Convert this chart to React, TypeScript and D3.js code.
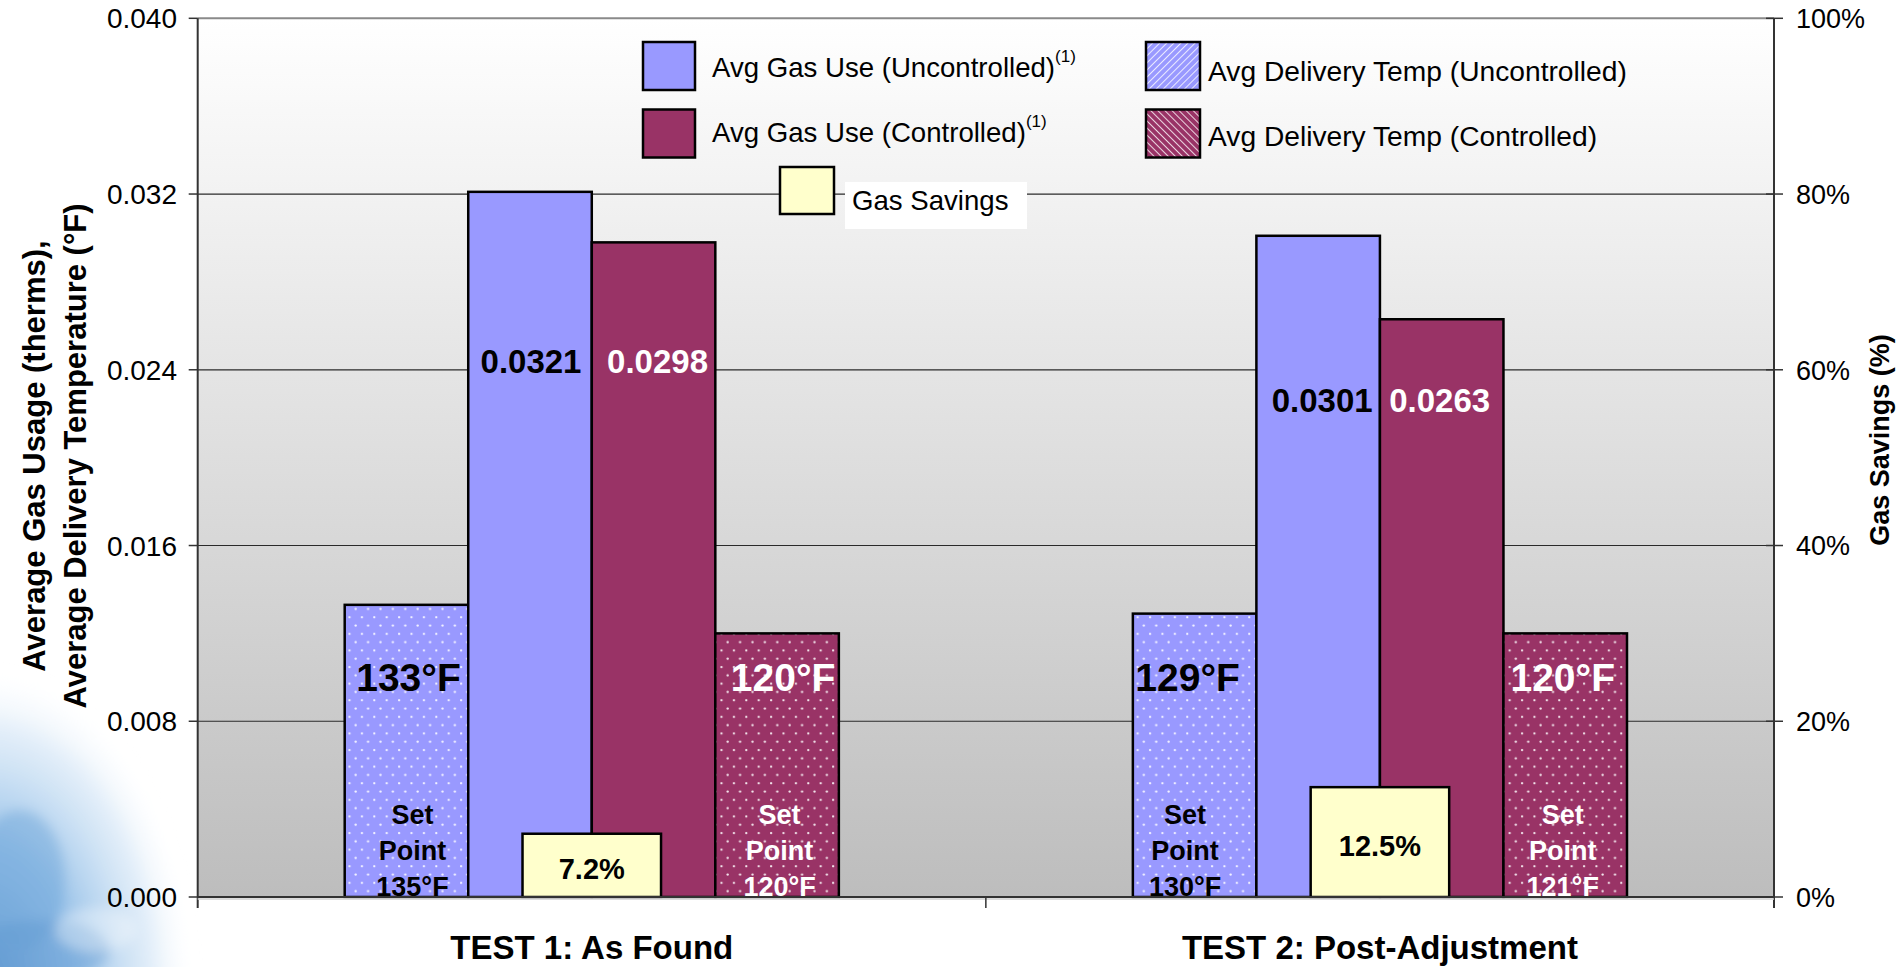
import React, { useEffect } from "react";
import * as d3 from "d3";

// ---------- data ----------
const categories = ["TEST 1: As Found", "TEST 2: Post-Adjustment"];
const tempUncontrolled = [133, 129]; // °F
const gasUncontrolled = [0.0321, 0.0301]; // therms
const gasControlled = [0.0298, 0.0263]; // therms
const tempControlled = [120, 120]; // °F
const gasSavings = [7.2, 12.5]; // %
const setPointUncontrolled = [135, 130]; // °F
const setPointControlled = [120, 121]; // °F
const leftTicks = [0, 0.008, 0.016, 0.024, 0.032, 0.04];
const rightTicks = [0, 20, 40, 60, 80, 100];
const TEMP_DIVISOR = 10000; // temperatures drawn on the therms axis

const seriesKeys = ["tempU", "gasU", "gasC", "tempC"];
const legendLeft = ["Avg Gas Use (Uncontrolled)", "Avg Gas Use (Controlled)"];
const legendRight = ["Avg Delivery Temp (Uncontrolled)", "Avg Delivery Temp (Controlled)"];
const legendSavings = "Gas Savings";

// ---------- styles ----------
const W = 1901;
const H = 967;
const M = { left: 197.7, right: 1774, top: 18.3, bottom: 897 };
const FONT = "'Liberation Sans', Arial, sans-serif";
const C_UNC = "#9999FF";
const C_CON = "#993366";
const C_SAV = "#FFFFCC";
// small nudges of hand-placed labels (px), per category
const NUDGE = {
  gasU: [1, 4],
  gasC: [4, -2],
  gasY: [1, -4],
  tempU: [2, -7],
  tempC: [6, -2.5],
  spU: [6, -9.5],
  spC: [2.5, -2.5],
};

function seriesValue(key: string, i: number): number {
  if (key === "tempU") return tempUncontrolled[i] / TEMP_DIVISOR;
  if (key === "gasU") return gasUncontrolled[i];
  if (key === "gasC") return gasControlled[i];
  return tempControlled[i] / TEMP_DIVISOR;
}

export default function App() {
  useEffect(() => {
    document.body.style.margin = "0";
  }, []);

  const x = d3.scaleBand<string>().domain(categories).range([M.left, M.right]).padding(0);
  const inner = d3
    .scaleBand<string>()
    .domain(seriesKeys)
    .range([0, x.bandwidth()])
    .paddingInner(0)
    .paddingOuter(1.19);
  const sav = d3
    .scaleBand<string>()
    .domain(["savings"])
    .range([0, x.bandwidth()])
    .paddingInner(0)
    .paddingOuter(2.345);
  const yL = d3.scaleLinear().domain([0, 0.04]).range([M.bottom, M.top]);
  const yR = d3.scaleLinear().domain([0, 100]).range([M.bottom, M.top]);
  const fmtL = d3.format(".3f");
  const fmtR = (v: number) => d3.format(".0%")(v / 100);

  const fillFor = (k: string) => (k === "tempU" || k === "gasU" ? C_UNC : C_CON);

  return (
    <svg
      width={W}
      height={H}
      style={{ position: "absolute", left: 0, top: 0, display: "block" }}
      fontFamily={FONT}
    >
      <defs>
        <linearGradient id="plotBg" x1="0" y1="0" x2="0" y2="1">
          <stop offset="0" stopColor="#ffffff" />
          <stop offset="1" stopColor="#bdbdbd" />
        </linearGradient>
        <radialGradient id="sky" cx="0.5" cy="0.5" r="0.5">
          <stop offset="0" stopColor="#5f98d0" />
          <stop offset="0.45" stopColor="#8dbbe6" stopOpacity="0.9" />
          <stop offset="0.8" stopColor="#cfe3f5" stopOpacity="0.6" />
          <stop offset="1" stopColor="#ffffff" stopOpacity="0" />
        </radialGradient>
        <filter id="blur" x="-50%" y="-50%" width="200%" height="200%">
          <feGaussianBlur stdDeviation="6" />
        </filter>
        <pattern id="dots" width="12.4" height="16.6" patternUnits="userSpaceOnUse">
          <circle cx="3" cy="3" r="1.15" fill="#ffffff" fillOpacity="0.9" />
          <circle cx="9.2" cy="11.3" r="1.15" fill="#ffffff" fillOpacity="0.9" />
        </pattern>
        <pattern id="stripeU" width="5" height="5" patternUnits="userSpaceOnUse" patternTransform="rotate(45)">
          <rect width="5" height="5" fill={C_UNC} />
          <line x1="0" y1="0" x2="0" y2="5" stroke="#ffffff" strokeWidth="1.6" />
        </pattern>
        <pattern id="stripeC" width="5" height="5" patternUnits="userSpaceOnUse" patternTransform="rotate(-45)">
          <rect width="5" height="5" fill={C_CON} />
          <line x1="0" y1="0" x2="0" y2="5" stroke="#ffffff" strokeWidth="1.6" />
        </pattern>
        <clipPath id="plotClip">
          <rect x={M.left} y={M.top} width={M.right - M.left} height={M.bottom - M.top} />
        </clipPath>
      </defs>

      {/* page background */}
      <rect x={0} y={0} width={W} height={H} fill="#ffffff" />
      <g filter="url(#blur)">
        <ellipse cx={-20} cy={985} rx={215} ry={320} fill="url(#sky)" />
        <ellipse cx={20} cy={880} rx={45} ry={70} fill="#6fa6d9" opacity={0.45} />
        <ellipse cx={40} cy={950} rx={70} ry={30} fill="#5d97d0" opacity={0.4} />
        <ellipse cx={95} cy={930} rx={40} ry={22} fill="#ffffff" opacity={0.35} />
      </g>

      {/* plot area */}
      <rect x={M.left} y={M.top} width={M.right - M.left} height={M.bottom - M.top} fill="url(#plotBg)" />

      {/* gridlines */}
      {leftTicks
        .filter((t) => t > 0 && t < 0.04)
        .map((t) => (
          <line key={"g" + t} x1={M.left} x2={M.right} y1={yL(t)} y2={yL(t)} stroke="#2a2a2a" strokeWidth={1.2} />
        ))}
      <line x1={M.left} x2={M.right} y1={M.top} y2={M.top} stroke="#8a8a8a" strokeWidth={2} />

      {/* primary bars */}
      {categories.map((cat, i) => (
        <g key={cat} transform={`translate(${x(cat)},0)`}>
          {seriesKeys.map((k) => {
            const v = seriesValue(k, i);
            const bx = inner(k)!;
            const bw = inner.bandwidth();
            const isTemp = k.startsWith("temp");
            return (
              <g key={k}>
                <rect x={bx} y={yL(v)} width={bw} height={yL(0) - yL(v)} fill={fillFor(k)} />
                {isTemp && <rect x={bx} y={yL(v)} width={bw} height={yL(0) - yL(v)} fill="url(#dots)" />}
                <rect
                  x={bx}
                  y={yL(v)}
                  width={bw}
                  height={yL(0) - yL(v)}
                  fill="none"
                  stroke="#000"
                  strokeWidth={2.5}
                />
              </g>
            );
          })}
        </g>
      ))}

      {/* secondary bars: gas savings */}
      {categories.map((cat, i) => (
        <rect
          key={"s" + cat}
          x={x(cat)! + sav("savings")!}
          y={yR(gasSavings[i])}
          width={sav.bandwidth()}
          height={yR(0) - yR(gasSavings[i])}
          fill={C_SAV}
          stroke="#000"
          strokeWidth={2.5}
        />
      ))}

      {/* bar labels */}
      <g clipPath="url(#plotClip)" fontWeight="bold" textAnchor="middle">
        {categories.map((cat, i) => {
          const x0 = x(cat)!;
          const cx = (k: string) => x0 + inner(k)! + inner.bandwidth() / 2;
          const gasLabelY = yL(Math.max(gasUncontrolled[i], gasControlled[i])) + 168 + NUDGE.gasY[i];
          const tempLabelY = yL(0.01);
          const spY = [yL(0) - 83, yL(0) - 47, yL(0) - 11];
          const savCx = x0 + sav("savings")! + sav.bandwidth() / 2;
          const savCy = (yR(gasSavings[i]) + yR(0)) / 2 + 3;
          return (
            <g key={"l" + cat}>
              <text x={cx("gasU") + NUDGE.gasU[i]} y={gasLabelY} dy="0.36em" fontSize={33} fill="#000">
                {gasUncontrolled[i].toFixed(4)}
              </text>
              <text x={cx("gasC") + NUDGE.gasC[i]} y={gasLabelY} dy="0.36em" fontSize={33} fill="#fff">
                {gasControlled[i].toFixed(4)}
              </text>
              <text x={cx("tempU") + NUDGE.tempU[i]} y={tempLabelY} dy="0.36em" fontSize={39} fill="#000">
                {tempUncontrolled[i]}°F
              </text>
              <text x={cx("tempC") + NUDGE.tempC[i]} y={tempLabelY} dy="0.36em" fontSize={39} fill="#fff">
                {tempControlled[i]}°F
              </text>
              {["Set", "Point", `${setPointUncontrolled[i]}°F`].map((t, j) => (
                <text key={"su" + j} x={cx("tempU") + NUDGE.spU[i]} y={spY[j]} dy="0.36em" fontSize={27} fill="#000">
                  {t}
                </text>
              ))}
              {["Set", "Point", `${setPointControlled[i]}°F`].map((t, j) => (
                <text key={"sc" + j} x={cx("tempC") + NUDGE.spC[i]} y={spY[j]} dy="0.36em" fontSize={27} fill="#fff">
                  {t}
                </text>
              ))}
              <text x={savCx} y={savCy} dy="0.36em" fontSize={29} fill="#000">
                {gasSavings[i].toFixed(1)}%
              </text>
            </g>
          );
        })}
      </g>

      {/* axes */}
      <line x1={M.left} x2={M.left} y1={M.top} y2={M.bottom + 11} stroke="#333" strokeWidth={2} />
      <line x1={M.right} x2={M.right} y1={M.top} y2={M.bottom + 11} stroke="#333" strokeWidth={2} />
      <line x1={M.left} x2={M.right} y1={M.bottom} y2={M.bottom} stroke="#333" strokeWidth={2} />
      <line x1={M.left} x2={M.right} y1={M.bottom + 2} y2={M.bottom + 2} stroke="#d0d0d0" strokeWidth={1.5} />
      {categories.slice(1).map((cat) => (
        <line key={"ct" + cat} x1={x(cat)!} x2={x(cat)!} y1={M.bottom} y2={M.bottom + 11} stroke="#333" strokeWidth={1.5} />
      ))}
      {leftTicks.map((t) => (
        <g key={"lt" + t}>
          <line x1={M.left - 9} x2={M.left} y1={yL(t)} y2={yL(t)} stroke="#333" strokeWidth={1.5} />
          <text x={177} y={yL(t)} dy="0.36em" fontSize={28} textAnchor="end" fill="#000">
            {fmtL(t)}
          </text>
        </g>
      ))}
      {rightTicks.map((t) => (
        <g key={"rt" + t}>
          <line x1={M.right - 8} x2={M.right + 9} y1={yR(t)} y2={yR(t)} stroke="#333" strokeWidth={1.5} />
          <text x={1796} y={yR(t)} dy="0.36em" fontSize={27} textAnchor="start" fill="#000">
            {fmtR(t)}
          </text>
        </g>
      ))}

      {/* category labels */}
      {categories.map((cat) => (
        <text
          key={"cl" + cat}
          x={x(cat)! + x.bandwidth() / 2}
          y={959}
          fontSize={33}
          fontWeight="bold"
          textAnchor="middle"
          fill="#000"
        >
          {cat}
        </text>
      ))}

      {/* axis titles */}
      <g fontWeight="bold" textAnchor="middle" fill="#000">
        <text transform="translate(45,456) rotate(-90)" fontSize={31}>
          Average Gas Usage (therms),
        </text>
        <text transform="translate(86,456) rotate(-90)" fontSize={31}>
          Average Delivery Temperature (°F)
        </text>
        <text transform="translate(1889,440) rotate(-90)" fontSize={27}>
          Gas Savings (%)
        </text>
      </g>

      {/* legend */}
      <g fill="#000">
        {legendLeft.map((lab, j) => (
          <g key={"ll" + j}>
            <rect
              x={643}
              y={42 + j * 67.5}
              width={52}
              height={48}
              fill={j === 0 ? C_UNC : C_CON}
              stroke="#000"
              strokeWidth={2.5}
            />
            <text x={712} y={77 + j * 65} fontSize={27.6}>
              {lab}
              <tspan fontSize={17} dy={-15}>
                (1)
              </tspan>
            </text>
          </g>
        ))}
        {legendRight.map((lab, j) => (
          <g key={"lr" + j}>
            <rect
              x={1146}
              y={42 + j * 67.5}
              width={54}
              height={48}
              fill={j === 0 ? "url(#stripeU)" : "url(#stripeC)"}
              stroke="#000"
              strokeWidth={2.5}
            />
            <text x={1208} y={81 + j * 65} fontSize={28.2}>
              {lab}
            </text>
          </g>
        ))}
        <rect x={845} y={182} width={182} height={47} fill="#ffffff" />
        <rect x={780} y={167} width={54} height={47} fill={C_SAV} stroke="#000" strokeWidth={2.5} />
        <text x={852} y={210} fontSize={27.6}>
          {legendSavings}
        </text>
      </g>
    </svg>
  );
}
